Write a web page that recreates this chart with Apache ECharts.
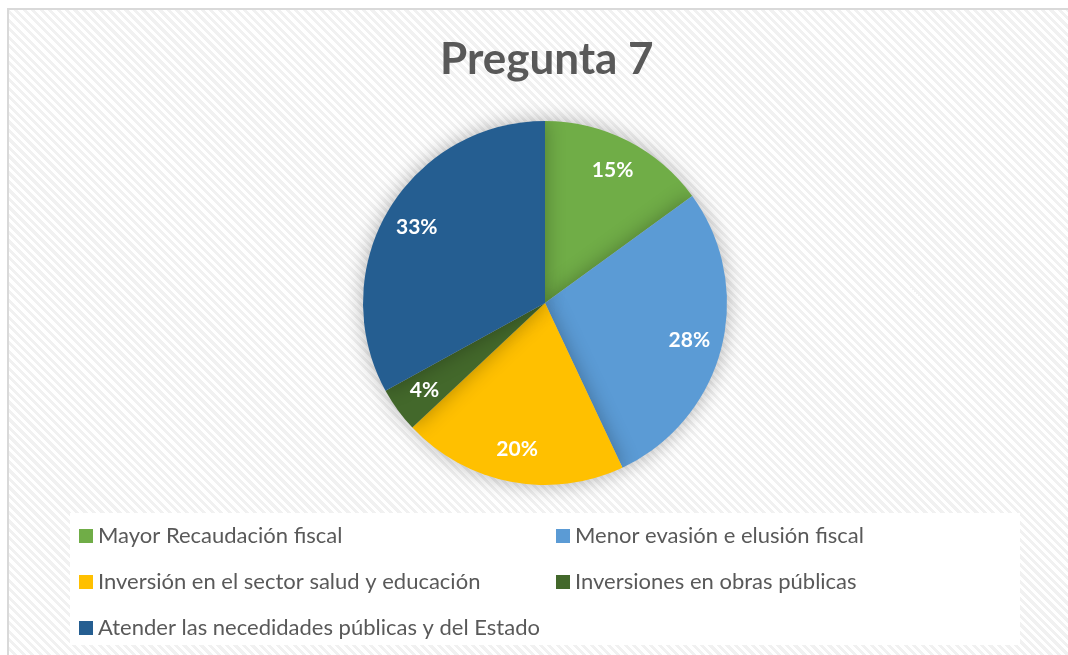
<!DOCTYPE html>
<html>
<head>
<meta charset="utf-8">
<script src="https://cdn.jsdelivr.net/npm/echarts@6/dist/echarts.min.js"></script>
<style>
  html, body { margin: 0; padding: 0; background: #fff; overflow: hidden; }
  .frame {
    position: absolute; left: 7px; top: 8px; width: 1080px; height: 670px;
    border: 2px solid #d9d9d9;
    background: repeating-linear-gradient(45deg, #ffffff 0px, #ffffff 3px, #f1f1f1 3px, #f1f1f1 6px);
  }
  #chart { position: absolute; left: 0; top: 0; width: 1068px; height: 655px; }
</style>
</head>
<body>
<div class="frame"></div>
<div id="chart"></div>
<script>
var categories = [
  "Mayor Recaudación fiscal",
  "Menor evasión e elusión fiscal",
  "Inversión en el sector salud y educación",
  "Inversiones en obras públicas",
  "Atender las necedidades públicas y del Estado"
];
var values = [15, 28, 20, 4, 33];
var colors = ["#70ad47", "#5b9bd5", "#ffc000", "#43682b", "#255e91"];

var chart = echarts.init(document.getElementById("chart"));
var pieData = categories.map(function (c, i) {
  return { name: c, value: values[i], itemStyle: { color: colors[i] } };
});

var option = {
  backgroundColor: "transparent",
  animation: false,
  title: {
    text: "Pregunta 7",
    left: 435,
    top: 33,
    textStyle: { fontFamily: "Lato", fontSize: 44, fontWeight: "bold", color: "#595959" }
  },
  graphic: [
    {
      type: "rect",
      left: 70, top: 513,
      shape: { width: 950, height: 132 },
      style: { fill: "#ffffff" },
      z: -1
    }
  ],
  legend: {
    left: 74,
    top: 513,
    width: 960,
    itemWidth: 14,
    itemHeight: 14,
    itemGap: 10,
    icon: "rect",
    data: categories,
    textStyle: { fontFamily: "Lato", fontSize: 22, color: "#595959", width: 448, lineHeight: 36 }
  },
  series: [
    {
      type: "pie",
      center: [545, 303],
      radius: [0, 182],
      startAngle: 90,
      clockwise: true,
      data: pieData,
      label: { show: false },
      labelLine: { show: false },
      itemStyle: { shadowBlur: 20, shadowColor: "rgba(0,0,0,0.3)" },
      emphasis: { disabled: true }
    },
    {
      type: "pie",
      center: [545, 303],
      radius: [110, 182],
      startAngle: 90,
      clockwise: true,
      silent: true,
      legendHoverLink: false,
      data: categories.map(function (c, i) { return { name: c, value: values[i] }; }),
      itemStyle: { color: "transparent" },
      label: {
        show: true,
        position: "inside",
        formatter: "{c}%",
        fontFamily: "Lato",
        fontWeight: "bold",
        fontSize: 21,
        color: "#ffffff"
      },
      labelLine: { show: false },
      emphasis: { disabled: true }
    }
  ]
};
chart.setOption(option);
</script>
</body>
</html>
